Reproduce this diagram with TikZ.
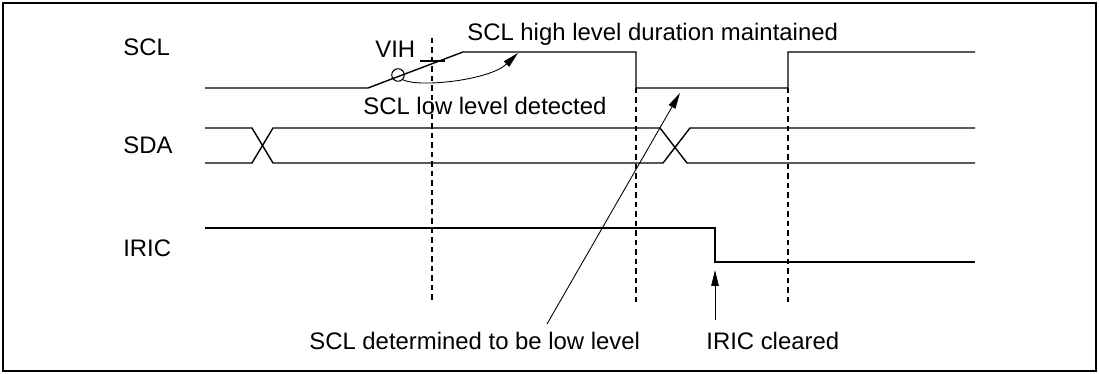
\documentclass[tikz,border=0pt]{standalone}
\usepackage{fontspec}
\setmainfont{Liberation Sans}
\usetikzlibrary{arrows.meta}

\begin{document}
\begin{tikzpicture}[x=0.02cm, y=-0.02cm,
  sig/.style={line width=0.8pt},
  tline/.style={dashed, dash pattern=on 0.11cm off 0.08cm, line width=0.6pt},
  lbl/.style={inner sep=0pt, anchor=base west, font=\fontsize{13.6}{16}\selectfont},
  arr/.style={-{Triangle[length=0.32cm, width=0.15cm]}, line width=0.5pt}
]
  \useasboundingbox (0,0) rectangle (1099,374);
  \draw[line width=0.8pt] (3,3) rectangle (1096,371);

  % signal names
  \node[lbl] (scl) at (123,56) {SCL};
  \node[lbl] (sda) at (123,154) {SDA};
  \node[lbl] (iric) at (123,257) {IRIC};

  % timing lines
  \draw[tline] (432,38) -- (432,302);
  \draw[tline] (636,88) -- (636,302);
  \draw[tline] (788,88) -- (788,302);

  % SCL
  \draw[sig] (205,88) -- (368,88) -- (463,52) -- (636,52) -- (636,88)
    -- (788,88) -- (788,52) -- (975,52);
  \draw[sig] (420,61) -- (445,61);
  \node[draw, circle, inner sep=0pt, minimum size=0.25cm, line width=0.6pt] (vih) at (398,75) {};
  \node[lbl] (vihLbl) at (375,58) {VIH};

  % SDA
  \draw[sig] (205,128) -- (252,128) -- (273,163) -- (663,163) -- (690,128) -- (975,128);
  \draw[sig] (205,163) -- (252,163) -- (273,128) -- (660,128) -- (687,163) -- (975,163);

  % IRIC
  \draw[sig] (205,228) -- (715,228) -- (715,262) -- (975,262);

  % notes
  \node[lbl] (hold) at (467,41) {SCL high level duration maintained};
  \node[lbl] (det) at (363,115) {SCL low level detected};
  \node[lbl] (low) at (309,350) {SCL determined to be low level};
  \node[lbl] (clr) at (706,350) {IRIC cleared};

  \coordinate (holdTip) at (518,53);
  \coordinate (lowStart) at (547,324);
  \coordinate (lowTip) at (680,93);
  \coordinate (clrStart) at (715,320);
  \coordinate (clrTip) at (715,270);

  \draw[arr] (vih.south east) .. controls (420,88) and (490,80) .. (holdTip);
  \draw[arr] (lowStart) -- (lowTip);
  \draw[arr] (clrStart) -- (clrTip);
\end{tikzpicture}
\end{document}
